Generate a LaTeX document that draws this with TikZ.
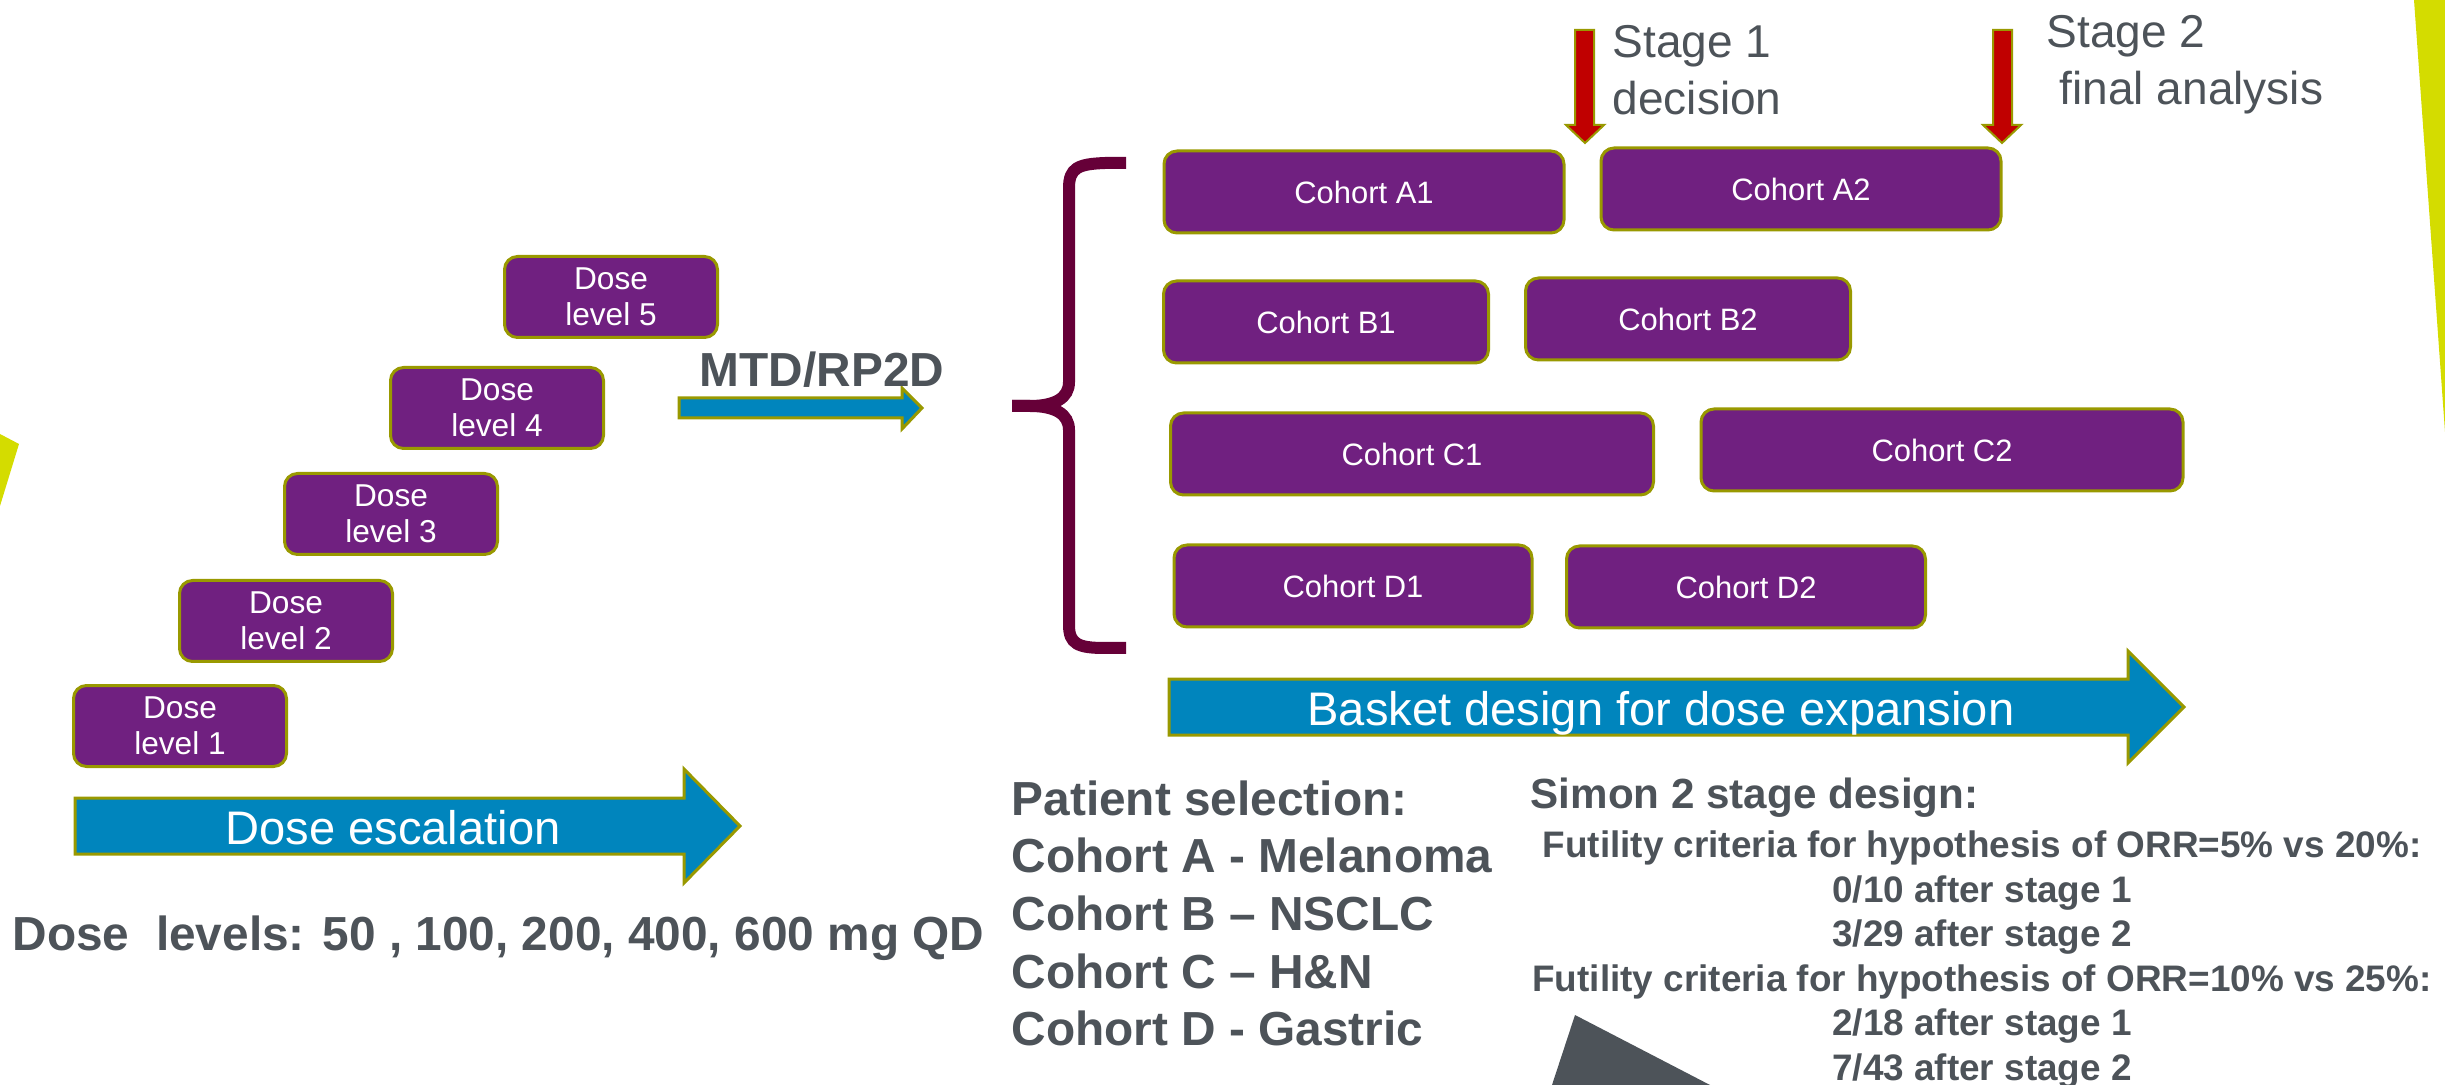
\documentclass[tikz,border=0pt]{standalone}
\usepackage{fontspec}
\setmainfont{Liberation Sans}
\usepackage{tikz}
\definecolor{dosepurple}{RGB}{112,32,128}
\definecolor{boxrim}{RGB}{153,153,0}
\definecolor{arrowblue}{RGB}{0,133,189}
\definecolor{bracemaroon}{RGB}{102,0,56}
\definecolor{stagered}{RGB}{192,0,0}
\definecolor{accentyellow}{RGB}{212,220,0}
\definecolor{txtgray}{RGB}{77,83,89}
\tikzset{
  dosebox/.style={draw=boxrim, fill=dosepurple, line width=0.3mm, rounded corners=1.3mm,
    minimum width=21.3mm, minimum height=8.1mm, inner sep=0pt, text=white, align=center,
    font=\fontsize{9}{10.2}\selectfont},
  cohort/.style={draw=boxrim, fill=dosepurple, line width=0.3mm, rounded corners=1.3mm,
    minimum height=8.2mm, inner sep=0pt, text=white, font=\fontsize{8.8}{10}\selectfont},
  blockarrow/.style={draw=boxrim, fill=arrowblue, line width=0.3mm},
  redarrow/.style={draw=boxrim, fill=stagered, line width=0.2mm},
  graytext/.style={text=txtgray, inner sep=0pt}
}

\begin{document}
\begin{tikzpicture}[x=0.1mm, y=-0.1mm]
   \useasboundingbox (0,0) rectangle (2445,1085);

   % corner decorations
   \fill[accentyellow] (0,434) -- (19,444) -- (0,506) -- cycle;
   \fill[accentyellow] (2414,0) -- (2445,0) -- (2445,432) -- cycle;
   \fill[txtgray] (1575,1015) -- (1710,1085) -- (1552,1085) -- cycle;

   % dose escalation
   \node[dosebox] (d1) at (180,726) {Dose\\level 1};
   \node[dosebox] (d2) at (286,621) {Dose\\level 2};
   \node[dosebox] (d3) at (391,514) {Dose\\level 3};
   \node[dosebox] (d4) at (497,408) {Dose\\level 4};
   \node[dosebox] (d5) at (611,297) {Dose\\level 5};

   \draw[blockarrow] (75,798) -- (684,798) -- (684,769) -- (740,826) -- (684,883) -- (684,854) -- (75,854) -- cycle;
   \node[text=white, anchor=base, font=\fontsize{13.4}{16}\selectfont] (escal) at (393,844) {Dose escalation};
   \node[graytext, anchor=base west, font=\bfseries\fontsize{13.6}{16}\selectfont] (levels) at (12,950)
      {Dose\ \ levels: 50 , 100, 200, 400, 600 mg QD};

   \draw[blockarrow] (679,398) -- (902,398) -- (902,388) -- (922,408) -- (902,429) -- (902,418) -- (679,418) -- cycle;
   \node[graytext, anchor=base, font=\bfseries\fontsize{13.6}{16}\selectfont] (mtd) at (822,387) {MTD/RP2D};

   % brace
   \draw[bracemaroon, line width=1.2mm] (1126,163) -- (1105,163) .. controls (1078,164) and (1069,168) .. (1069,188)
      -- (1069,382) .. controls (1069,398) and (1055,406) .. (1030,406) -- (1012,406);
   \draw[bracemaroon, line width=1.2mm] (1012,406) -- (1030,406) .. controls (1055,406) and (1069,414) .. (1069,430)
      -- (1069,625) .. controls (1069,644) and (1078,648) .. (1105,648) -- (1126,648);

   % cohorts
   \node[cohort, minimum width=40mm] (cA1) at (1364,192) {Cohort A1};
   \node[cohort, minimum width=40mm] (cA2) at (1801,189) {Cohort A2};
   \node[cohort, minimum width=32.5mm] (cB1) at (1326,322) {Cohort B1};
   \node[cohort, minimum width=32.5mm] (cB2) at (1688,319) {Cohort B2};
   \node[cohort, minimum width=48.3mm] (cC1) at (1412,454) {Cohort C1};
   \node[cohort, minimum width=48.2mm] (cC2) at (1942,450) {Cohort C2};
   \node[cohort, minimum width=35.8mm] (cD1) at (1353,586) {Cohort D1};
   \node[cohort, minimum width=35.9mm] (cD2) at (1746,587) {Cohort D2};

   \draw[redarrow] (1575,30) -- (1594,30) -- (1594,125) -- (1604,125) -- (1585,143) -- (1566,125) -- (1575,125) -- cycle;
   \draw[redarrow] (1993,30) -- (2012,30) -- (2012,125) -- (2021,125) -- (2002,143) -- (1983,125) -- (1993,125) -- cycle;
   \node[graytext, anchor=north west, align=left, font=\fontsize{13.1}{16.2}\selectfont] (stage1) at (1612,25)
      {Stage 1\\decision};
   \node[graytext, anchor=north west, align=left, font=\fontsize{13.1}{16.2}\selectfont] (stage2) at (2046,15)
      {Stage 2\\\hspace*{0.28em}final analysis};

   \draw[blockarrow] (1169,679) -- (2128,679) -- (2128,651) -- (2184,707) -- (2128,763) -- (2128,735) -- (1169,735) -- cycle;
   \node[text=white, anchor=base, font=\fontsize{13.4}{16}\selectfont] (basket) at (1661,725)
      {Basket design for dose expansion};

   % design notes
   \node[graytext, anchor=north west, align=left, font=\bfseries\fontsize{13.6}{16.4}\selectfont] (select) at (1011,780)
      {Patient selection:\\Cohort A - Melanoma\\Cohort B -- NSCLC\\Cohort C -- H\&N\\Cohort D - Gastric};
   \node[graytext, anchor=base west, font=\bfseries\fontsize{12}{14}\selectfont] (simon) at (1530,808)
      {Simon 2 stage design:};
   \node[graytext, anchor=north, align=center, font=\bfseries\fontsize{10.5}{12.7}\selectfont] (futility) at (1982,830)
      {Futility criteria for hypothesis of ORR=5\% vs 20\%:\\0/10 after stage 1\\3/29 after stage 2\\
       Futility criteria for hypothesis of ORR=10\% vs 25\%:\\2/18 after stage 1\\7/43 after stage 2};
\end{tikzpicture}
\end{document}
